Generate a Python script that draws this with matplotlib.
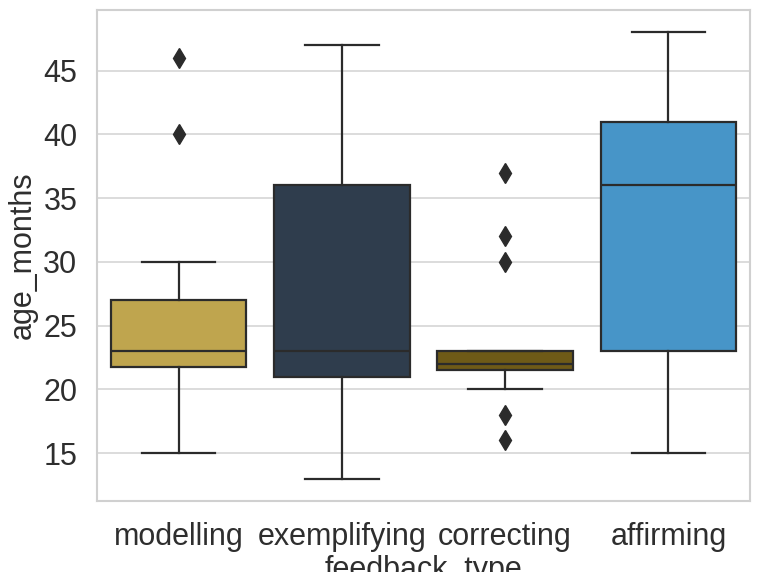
import matplotlib
matplotlib.use("Agg")
import matplotlib.pyplot as plt
from matplotlib.patches import Rectangle

plt.rcParams['font.family'] = ['Liberation Sans', 'DejaVu Sans']

categories = ["modelling", "exemplifying", "correcting", "affirming"]
whislo = [15, 13, 20, 15]
q1 = [21.75, 21, 21.5, 23]
med = [23, 23, 22, 36]
q3 = [27, 36, 23, 41]
whishi = [30, 47, 23, 48]
fliers = [[40, 46], [], [16, 18, 30, 32, 37], []]
colors = ["#bfa54e", "#2f3d4d", "#6e5a17", "#4795c8"]
yticks = [15, 20, 25, 30, 35, 40, 45]

stats = []
for i, c in enumerate(categories):
    stats.append(dict(label=c, whislo=whislo[i], q1=q1[i], med=med[i],
                      q3=q3[i], whishi=whishi[i], fliers=fliers[i]))

fig = plt.figure(figsize=(7.63, 5.86), dpi=100)
ax = fig.add_axes([0.127, 0.145, 0.856, 0.838])

lc = "#2b2b2b"
lw = 1.6
bp = ax.bxp(stats, positions=range(len(categories)), widths=0.83,
            patch_artist=True, showfliers=True,
            boxprops=dict(edgecolor=lc, linewidth=lw),
            medianprops=dict(color=lc, linewidth=lw),
            whiskerprops=dict(color=lc, linewidth=lw),
            capprops=dict(color=lc, linewidth=lw),
            flierprops=dict(marker='d', markerfacecolor=lc, markeredgecolor=lc,
                            markersize=10, linestyle='none'),
            capwidths=0.45)
for patch, col in zip(bp['boxes'], colors):
    patch.set_facecolor(col)

ax.set_xlim(-0.5, len(categories) - 0.5)
ax.set_ylim(11.25, 49.75)
ax.set_yticks(yticks)
ax.set_xticks(range(len(categories)))
ax.set_xticklabels(categories)
ax.tick_params(axis='both', labelsize=22, colors="#2e2e2e", length=0)
ax.tick_params(axis='x', pad=15)
ax.tick_params(axis='y', pad=14)
ax.grid(axis='y', color="#d9d9d9", linewidth=1.3)
ax.set_axisbelow(True)
for s in ax.spines.values():
    s.set_color("#d0d0d0")
    s.set_linewidth(1.5)
ax.set_xlabel("feedback_type", fontsize=22, color="#2e2e2e", labelpad=2)
ax.set_ylabel("age_months", fontsize=22, color="#2e2e2e", labelpad=4)

fig.patches.append(Rectangle((0, 0), 1, 14 / 586, transform=fig.transFigure,
                             facecolor="white", edgecolor="none", zorder=100))

fig.savefig("out.png", dpi=100)
